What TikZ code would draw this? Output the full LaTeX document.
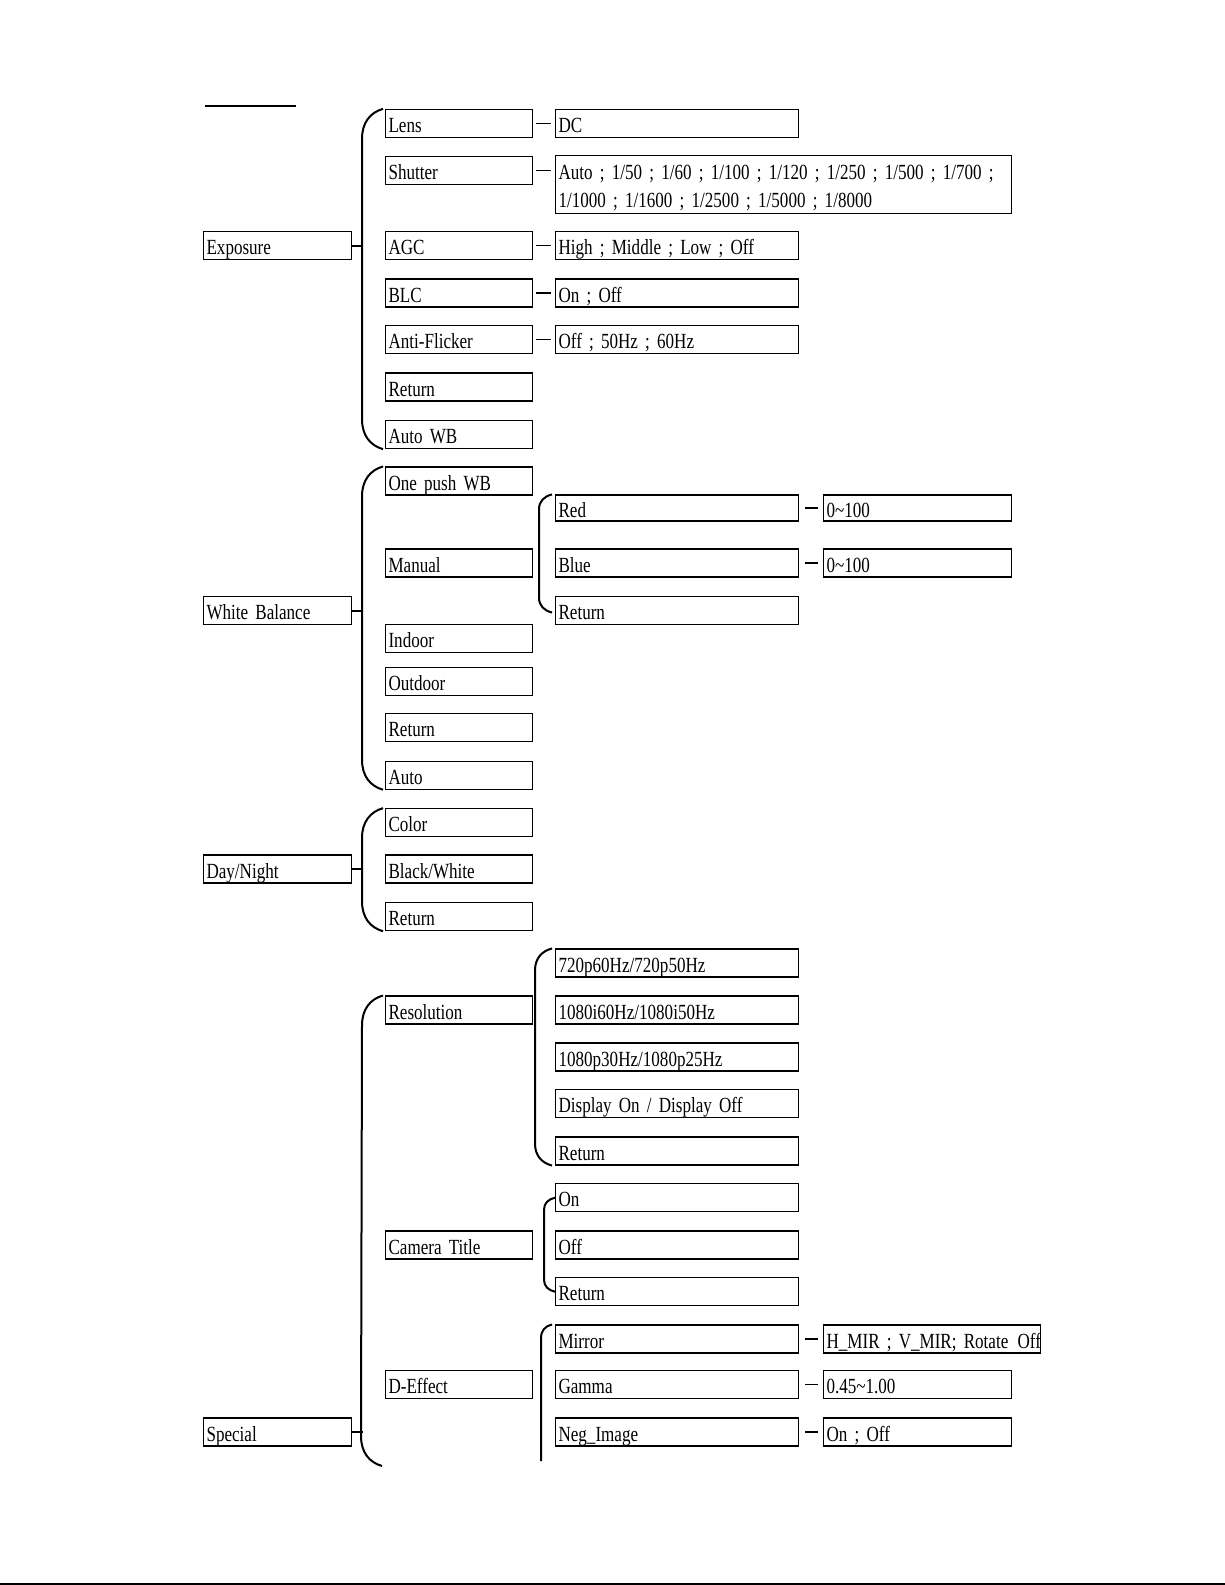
\documentclass[tikz,border=0pt]{standalone}
\usepackage{fontspec}
\newfontfamily\menufont[FakeStretch=0.79,WordSpace=0.6]{Liberation Serif}
\newcommand{\menuface}{\menufont\fontsize{21.6}{27.3}\selectfont\frenchspacing}
\usetikzlibrary{positioning}
% #1 top end, #2 bottom end, #3 spine offset, #4 curve drop
\newcommand{\menubrace}[4]{%
  \draw[spine] (#1) .. controls +(-0.6*#3,0.12*#4) and +(0,-0.55*#4) .. ++(-#3,#4)
    -- ([shift={(-#3,-#4)}]#2) .. controls +(0,0.55*#4) and +(-0.6*#3,-0.12*#4) .. (#2);}

\begin{document}
\begin{tikzpicture}[x=1pt,y=-1pt,
      item/.style={draw,line width=1.1pt,anchor=west,minimum height=28pt,inner xsep=3pt,inner ysep=0pt,
        text height=18pt,text depth=0pt,align=left,font=\menuface},
      col0/.style={item,text width=142pt},
      col1/.style={item,text width=141pt},
      col2/.style={item,text width=237pt},
      col3/.style={item,text width=182pt},
      stub/.style={line width=1.2pt,shorten <=3pt,shorten >=4pt},
      stubwide/.style={line width=1.2pt,shorten <=6pt,shorten >=5pt},
      spine/.style={line width=2pt}]
    \useasboundingbox (0,0) rectangle (1225,1585);
    \draw[line width=2pt] (205,105.7) -- (296,105.7);
    \draw[line width=2.2pt] (0,1584) -- (1225,1584);

    % top level
    \node[col0] (expo) at (203,245.6)  {Exposure};
    \node[col0] (wb)   at (203,610.5)  {White Balance};
    \node[col0] (dn)   at (203,869)    {Day/Night};
    \node[col0] (spec) at (203,1432)   {Special};

    % second level
    \node[col1] (lens)     at (385,123.4)  {Lens};
    \node[col1] (shutter)  at (385,170.3)  {Shutter};
    \node[col1] (agc)      at (385,245.6)  {AGC};
    \node[col1] (blc)      at (385,293)    {BLC};
    \node[col1] (flick)    at (385,339.6)  {Anti-Flicker};
    \node[col1] (expret)   at (385,387)    {Return};
    \node[col1] (autowb)   at (385,434.6)  {Auto WB};
    \node[col1] (onepush)  at (385,481)    {One push WB};
    \node[col1] (manual)   at (385,563)    {Manual};
    \node[col1] (indoor)   at (385,638.5)  {Indoor};
    \node[col1] (outdoor)  at (385,681.3)  {Outdoor};
    \node[col1] (wbret)    at (385,727.8)  {Return};
    \node[col1] (wbauto)   at (385,775.2)  {Auto};
    \node[col1] (color)    at (385,822.7)  {Color};
    \node[col1] (bw)       at (385,869)    {Black/White};
    \node[col1] (dnret)    at (385,916.7)  {Return};
    \node[col1] (res)      at (385,1010)   {Resolution};
    \node[col1] (camtitle) at (385,1245)   {Camera Title};
    \node[col1] (deffect)  at (385,1384.7) {D-Effect};

    % third level
    \node[col2] (dc)     at (555,123.4) {DC};
    \node[item,text width=450pt,minimum height=57.7pt,text height=18pt,text depth=27.3pt] (shutv) at (555,184.5)
      {Auto ; 1/50 ; 1/60 ; 1/100 ; 1/120 ; 1/250 ; 1/500 ; 1/700 ;\\1/1000 ; 1/1600 ; 1/2500 ; 1/5000 ; 1/8000};
    \node[col2] (agcv)   at (555,245.6) {High ; Middle ; Low ; Off};
    \node[col2] (blcv)   at (555,293)   {On ; Off};
    \node[col2] (flickv) at (555,339.6) {Off ; 50Hz ; 60Hz};
    \node[col2,minimum height=26pt] (red) at (555,508) {Red};
    \node[col2] (blue)   at (555,563)    {Blue};
    \node[col2] (manret) at (555,610.5)  {Return};
    \node[col2] (rhd)    at (555,963)    {720p60Hz/720p50Hz};
    \node[col2] (rfhdi)  at (555,1010)   {1080i60Hz/1080i50Hz};
    \node[col2] (rfhdp)  at (555,1057)   {1080p30Hz/1080p25Hz};
    \node[col2] (disp)   at (555,1103.7) {Display On / Display Off};
    \node[col2] (resret) at (555,1151)   {Return};
    \node[col2] (ton)    at (555,1197.7) {On};
    \node[col2] (toff)   at (555,1245)   {Off};
    \node[col2] (tret)   at (555,1291.7) {Return};
    \node[col2] (mirror) at (555,1339)   {Mirror};
    \node[col2] (gamma)  at (555,1384.7) {Gamma};
    \node[col2] (neg)    at (555,1432)   {Neg\_Image};

    % fourth level
    \node[col3,minimum height=26pt] (redv) at (823,508) {0\textasciitilde100};
    \node[col3] (bluev)   at (823,563)    {0\textasciitilde100};
    \node[item,text width=211pt] (mirrorv) at (823,1339) {\mbox{H\_MIR ; V\_MIR; Rotate\hspace{2pt} Off}};
    \node[col3] (gammav)  at (823,1384.7) {0.45\textasciitilde1.00};
    \node[col3] (negv)    at (823,1432)   {On ; Off};

    % stubs to the values
    \draw[stub] (lens) -- (dc);
    \draw[stub] (shutter.east) -- (shutter.east -| shutv.west);
    \draw[stub] (agc) -- (agcv);
    \draw[stub] (blc) -- (blcv);
    \draw[stub] (flick) -- (flickv);
    \draw[stubwide] (red) -- (redv);
    \draw[stubwide] (blue) -- (bluev);
    \draw[stubwide] (mirror.east) -- (mirror.east -| mirrorv.west);
    \draw[stubwide] (gamma) -- (gammav);
    \draw[stubwide] (neg) -- (negv);

    % braces
    \coordinate (expotop) at ([xshift=-2pt]lens.north west);
    \coordinate (expobot) at ([xshift=-2pt]autowb.south west);
    \coordinate (wbtop)   at ([xshift=-2pt]onepush.north west);
    \coordinate (wbbot)   at ([xshift=-2pt]wbauto.south west);
    \coordinate (dntop)   at ([xshift=-2pt]color.north west);
    \coordinate (dnbot)   at ([xshift=-2pt]dnret.south west);
    \coordinate (spectop) at ([xshift=-2pt]res.north west);
    \coordinate (specbot) at (382,1466);
    \coordinate (mantop)  at ([xshift=-3pt]red.north west);
    \coordinate (manbot)  at ([xshift=-3pt,yshift=-2pt]manret.west);
    \coordinate (restop)  at ([xshift=-3pt]rhd.north west);
    \coordinate (resbot)  at ([xshift=-3pt]resret.south west);
    \coordinate (cttop)   at (ton.west);
    \coordinate (ctbot)   at (tret.west);
    \coordinate (eftop)   at ([xshift=-3pt]mirror.north west);
    \coordinate (efbot)   at (541,1461);

    \draw[spine] (expo.east) -- ++(11,0);
    \draw[spine] (wb.east) -- ++(11,0);
    \draw[spine] (dn.east) -- ++(11,0);
    \draw[spine] (spec.east) -- ++(11,0);
    \menubrace{expotop}{expobot}{21}{30}
    \menubrace{wbtop}{wbbot}{21}{30}
    \menubrace{dntop}{dnbot}{21}{30}
    \menubrace{spectop}{specbot}{21}{30}
    \menubrace{mantop}{manbot}{13}{15}
    \menubrace{restop}{resbot}{17}{22}
    \menubrace{cttop}{ctbot}{11}{12}
    \draw[spine] (eftop) .. controls +(-7,1.7) and +(0,-8) .. ++(-11,14) -- (efbot);
  \end{tikzpicture}
\end{document}
